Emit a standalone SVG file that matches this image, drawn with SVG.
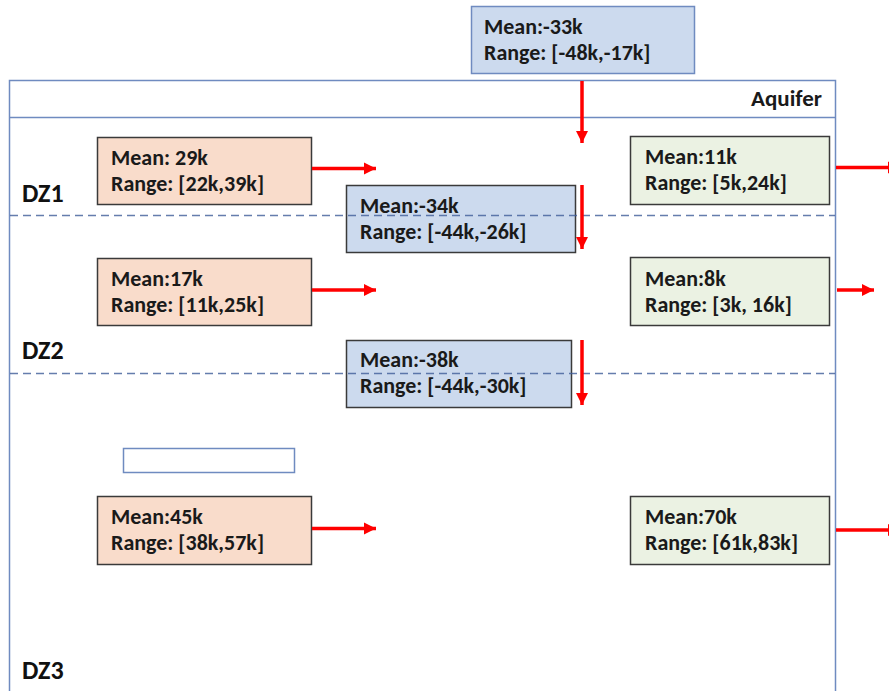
<svg xmlns="http://www.w3.org/2000/svg" width="889" height="691" viewBox="0 0 889 691">
  <style>
    .frame { fill: none; stroke: #6F8BC0; stroke-width: 1.5; }
    .zone-line { stroke: #3F5C99; stroke-opacity: 0.8; stroke-width: 1.3; stroke-dasharray: 8 5; }
    .box { stroke: #3A3A3A; stroke-width: 1.5; }
    .src { fill: #F9DCCB; }
    .sink { fill: #EBF2E3; }
    .leak { fill: #CCDAEE; }
    .top-leak { fill: #CCDAEE; stroke: #6F8BC0; stroke-width: 1.5; }
    .lbl { font-family: Calibri, Carlito, Lato, "Liberation Sans", sans-serif; font-weight: bold; font-size: 22px; fill: #1A1A1A; }
    .zone { font-family: Calibri, Carlito, Lato, "Liberation Sans", sans-serif; font-weight: bold; font-size: 26px; fill: #111; }
    .flow { stroke: #FF0000; stroke-width: 3.5; fill: none; }
  </style>
  <defs>
    <marker id="head" viewBox="0 0 10 10" refX="10" refY="5" markerWidth="3.6" markerHeight="3.5" markerUnits="strokeWidth" orient="auto">
      <path d="M0,0 L10,5 L0,10 Z" fill="#FF0000"/>
    </marker>
  </defs>

  <!-- aquifer frame with header strip -->
  <g id="aquifer">
    <rect class="frame" x="9.5" y="80.5" width="826" height="640"/>
    <line class="frame" x1="9.5" y1="117.5" x2="835.5" y2="117.5"/>
    <text class="lbl" x="822" y="106" text-anchor="end" style="font-size:23px">Aquifer</text>
  </g>

  <!-- inflow from above -->
  <g id="top-inflow">
    <rect class="top-leak" x="471.5" y="6.5" width="223" height="67"/>
    <text class="lbl" x="484" y="34">Mean:-33k</text>
    <text class="lbl" x="484" y="60">Range: [-48k,-17k]</text>
  </g>

  <!-- DZ1 -->
  <g id="dz1-source">
    <rect class="box src" x="97.5" y="137.5" width="214" height="67"/>
    <text class="lbl" x="111" y="165">Mean: 29k</text>
    <text class="lbl" x="111" y="191">Range: [22k,39k]</text>
  </g>
  <g id="dz1-leak">
    <rect class="box leak" x="346.5" y="185.5" width="229" height="67"/>
    <text class="lbl" x="360" y="213">Mean:-34k</text>
    <text class="lbl" x="360" y="239">Range: [-44k,-26k]</text>
  </g>
  <g id="dz1-sink">
    <rect class="box sink" x="630.5" y="136.5" width="199" height="68"/>
    <text class="lbl" x="645" y="164">Mean:11k</text>
    <text class="lbl" x="645" y="190">Range: [5k,24k]</text>
  </g>

  <!-- DZ2 -->
  <g id="dz2-source">
    <rect class="box src" x="97.5" y="258.5" width="214" height="67"/>
    <text class="lbl" x="111" y="286">Mean:17k</text>
    <text class="lbl" x="111" y="312">Range: [11k,25k]</text>
  </g>
  <g id="dz2-leak">
    <rect class="box leak" x="346.5" y="340.5" width="225" height="67"/>
    <text class="lbl" x="360" y="367">Mean:-38k</text>
    <text class="lbl" x="360" y="393">Range: [-44k,-30k]</text>
  </g>
  <g id="dz2-sink">
    <rect class="box sink" x="630.5" y="257.5" width="199" height="68"/>
    <text class="lbl" x="645" y="286">Mean:8k</text>
    <text class="lbl" x="645" y="312">Range: [3k, 16k]</text>
  </g>

  <!-- empty placeholder box -->
  <g id="placeholder">
    <rect x="123.5" y="448.5" width="171" height="24" fill="#FFFFFF" stroke="#6F8BC0" stroke-width="1.5"/>
  </g>

  <!-- DZ3 -->
  <g id="dz3-source">
    <rect class="box src" x="97.5" y="496.5" width="214" height="68"/>
    <text class="lbl" x="111" y="524">Mean:45k</text>
    <text class="lbl" x="111" y="550">Range: [38k,57k]</text>
  </g>
  <g id="dz3-sink">
    <rect class="box sink" x="630.5" y="496.5" width="199" height="68"/>
    <text class="lbl" x="645" y="524">Mean:70k</text>
    <text class="lbl" x="645" y="550">Range: [61k,83k]</text>
  </g>

  <!-- zone boundaries (drawn over the boxes they cross) -->
  <g id="zones">
    <line class="zone-line" x1="10" y1="215.5" x2="835" y2="215.5"/>
    <line class="zone-line" x1="10" y1="373.5" x2="835" y2="373.5"/>
    <text class="zone" x="22" y="202">DZ1</text>
    <text class="zone" x="22" y="359">DZ2</text>
    <text class="zone" x="22" y="679">DZ3</text>
  </g>

  <!-- flow arrows -->
  <g id="connectors">
    <line class="flow" x1="582" y1="81" x2="582" y2="143" marker-end="url(#head)"/>
    <line class="flow" x1="582" y1="185" x2="582" y2="249" marker-end="url(#head)"/>
    <line class="flow" x1="582" y1="340" x2="582" y2="405" marker-end="url(#head)"/>
    <line class="flow" x1="312" y1="168.5" x2="376" y2="168.5" marker-end="url(#head)"/>
    <line class="flow" x1="312" y1="290" x2="376" y2="290" marker-end="url(#head)"/>
    <line class="flow" x1="312" y1="528.5" x2="376" y2="528.5" marker-end="url(#head)"/>
    <line class="flow" x1="836" y1="167.5" x2="900" y2="167.5" marker-end="url(#head)"/>
    <line class="flow" x1="837" y1="290" x2="874" y2="290" marker-end="url(#head)"/>
    <line class="flow" x1="836" y1="530" x2="900" y2="530" marker-end="url(#head)"/>
  </g>
</svg>
